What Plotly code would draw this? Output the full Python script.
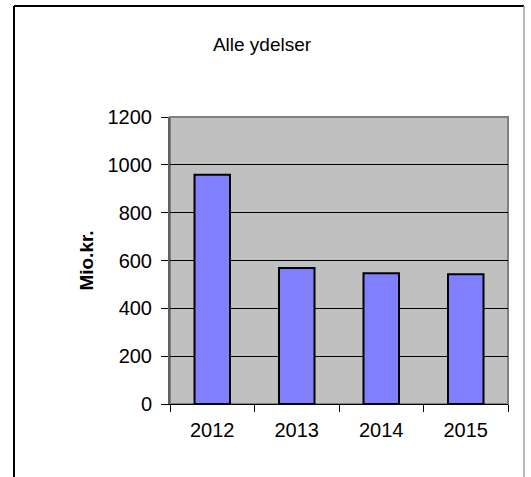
import plotly.graph_objects as go

years = ["2012", "2013", "2014", "2015"]
values = [959, 569, 547, 542]
y_ticks = [0, 200, 400, 600, 800, 1000, 1200]

W, H = 531, 477
L, R, T, B = 170, 508, 117, 404

def px_x(px):
    return (px - L) / (R - L)

def px_y(py):
    return (B - py) / (B - T)

fig = go.Figure(go.Bar(
    x=years, y=values,
    marker=dict(color="#8080FF", line=dict(color="black", width=2)),
    width=0.42,
))

fig.update_layout(
    width=W, height=H,
    margin=dict(l=L, r=W - R, t=T, b=H - B, pad=0),
    paper_bgcolor="white",
    plot_bgcolor="#C0C0C0",
    showlegend=False,
    font=dict(family="Liberation Sans, Arial, sans-serif", color="black"),
    title=dict(text="Alle ydelser", x=262 / W, xanchor="center",
               y=1 - 44 / H, yanchor="middle", font=dict(size=19)),
    xaxis=dict(
        type="category", tickson="boundaries", ticks="outside", ticklen=7,
        tickcolor="black", tickwidth=1, showline=True, linecolor="black", linewidth=1,
        tickfont=dict(size=20), showgrid=False, fixedrange=True,
        ticklabelstandoff=8,
    ),
    yaxis=dict(
        range=[0, 1200], tickvals=y_ticks, ticks="outside", ticklen=7,
        tickcolor="black", tickwidth=1, showline=True, linecolor="#606060", linewidth=2,
        gridcolor="black", gridwidth=1, tickfont=dict(size=20), zeroline=False,
        ticklabelstandoff=5,
        title=dict(text="<b>Mio.kr.</b>", font=dict(size=19), standoff=9),
        fixedrange=True,
    ),
    shapes=[
        dict(type="rect", xref="paper", yref="paper", x0=0, x1=1, y0=0, y1=1,
             line=dict(color="#808080", width=2), layer="below"),
        dict(type="line", xref="paper", yref="paper", x0=px_x(14), x1=px_x(14),
             y0=px_y(6), y1=px_y(480), line=dict(color="black", width=2)),
        dict(type="line", xref="paper", yref="paper", x0=px_x(14), x1=px_x(524),
             y0=px_y(6), y1=px_y(6), line=dict(color="black", width=2)),
        dict(type="line", xref="paper", yref="paper", x0=px_x(524), x1=px_x(524),
             y0=px_y(6), y1=px_y(480), line=dict(color="#A0A0A0", width=1.5)),
    ],
)

fig.write_html("out.html", config={"displayModeBar": False},
               post_script="document.body.style.margin='0';document.body.style.overflow='hidden';")
